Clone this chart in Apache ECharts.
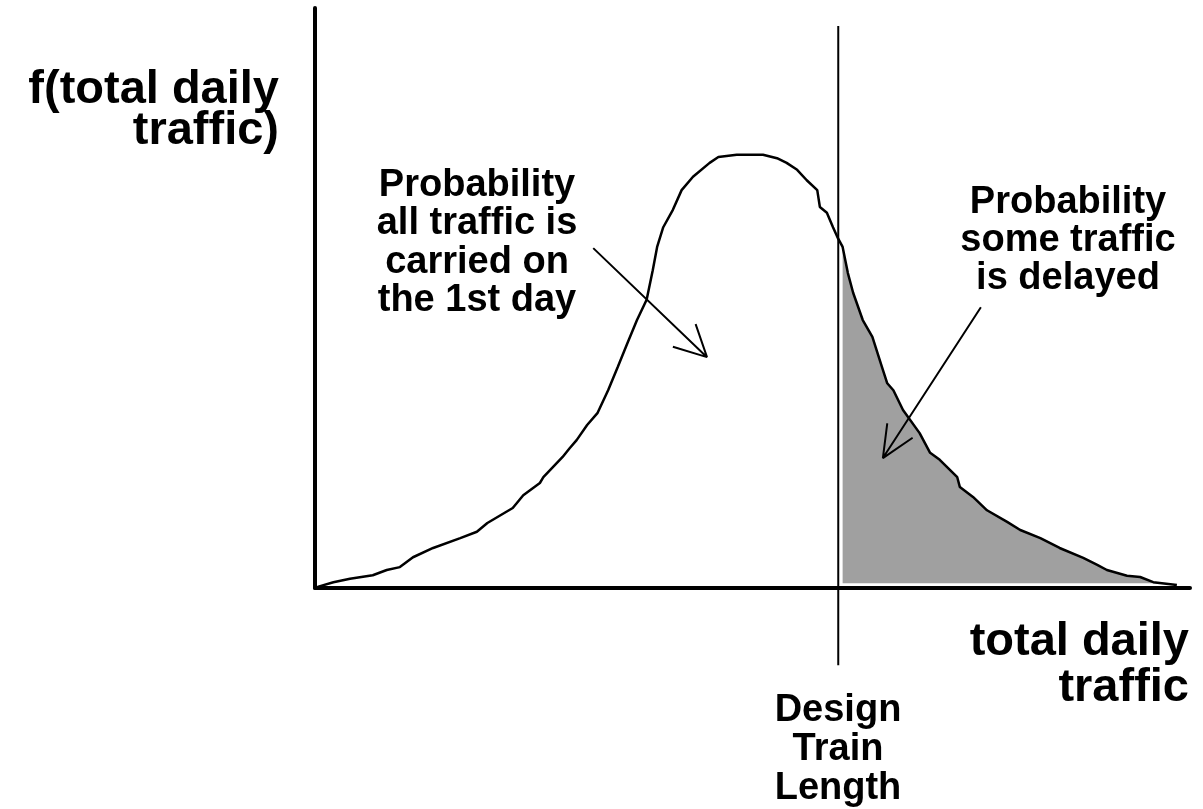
<!DOCTYPE html>
<html>
<head>
<meta charset="utf-8">
<title>Design train length</title>
<script src="https://cdn.jsdelivr.net/npm/echarts@6/dist/echarts.min.js"></script>
<style>
  html, body { margin: 0; padding: 0; background: #fff; }
  #chart { width: 1203px; height: 809px; }
</style>
</head>
<body>
<div id="chart"></div>
<script>
// total daily traffic (x) and its density f(x), 0..100 units
var trafficX = [0.3, 2.1, 4.0, 6.6, 8.2, 9.7, 11.2, 13.5, 16.6, 18.5, 19.7, 22.6, 23.8, 25.7, 26.1,
  28.3, 29.1, 29.9, 31.1, 32.3, 33.5, 34.6, 35.7, 36.8, 37.9, 38.6, 39.1, 39.8, 40.9, 41.9,
  43.2, 45.1, 46.1, 48.2, 51.2, 52.8, 53.9, 55.1, 56.2, 57.4, 57.7, 58.5, 59.2, 59.7, 60.3,
  60.9, 61.5, 62.6, 63.7, 64.8, 65.4, 66.1, 67.2, 69.1, 70.3, 71.4, 73.4, 73.7, 75.2, 76.8,
  79.1, 80.6, 82.9, 85.1, 87.8, 89.4, 90.5, 92.8, 94.3, 95.8, 98.5];
var densityY = [0.2, 1.0, 1.6, 2.2, 3.1, 3.6, 5.3, 6.9, 8.6, 9.7, 11.2, 13.8, 16.0, 18.1, 19.1,
  22.6, 24.1, 25.5, 28.1, 30.2, 34.1, 38.1, 42.2, 46.2, 49.7, 54.8, 58.8, 62.2, 65.2, 68.6,
  70.9, 73.3, 74.3, 74.7, 74.7, 74.1, 73.3, 72.1, 70.3, 68.6, 65.7, 64.7, 62.2, 60.5, 58.8,
  54.3, 50.9, 46.2, 43.3, 38.1, 35.3, 34.1, 30.7, 26.7, 23.3, 22.1, 19.1, 17.4, 15.7, 13.4,
  11.4, 10.0, 8.6, 6.9, 5.2, 4.0, 3.1, 2.1, 1.9, 1.0, 0.5];

var designLength = 59.8;
var designSpan = [-13.3, 96.9];

// arrows: start, tip, head arm, tip, head arm
var arrowAllCarried = [[31.8, 58.6], [44.8, 39.8], [43.5, 45.5], [44.8, 39.8], [40.9, 41.6]];
var arrowDelayed = [[76.1, 48.4], [64.9, 22.4], [65.4, 28.4], [64.9, 22.4], [68.3, 25.9]];

var curve = [];
var delayed = [];
for (var i = 0; i < trafficX.length; i++) {
  curve.push([trafficX[i], densityY[i]]);
  if (trafficX[i] >= designLength) delayed.push([trafficX[i], densityY[i]]);
}

var FONT = '"Liberation Sans", Arial, Helvetica, sans-serif';
function label(text, x, y, align, size, lh) {
  return {
    type: 'text',
    x: x,
    y: y,
    style: {
      text: text,
      fontFamily: FONT,
      fontWeight: 'bold',
      fontSize: size,
      lineHeight: lh,
      fill: '#000',
      align: align,
      verticalAlign: 'middle'
    }
  };
}

var myChart = echarts.init(document.getElementById('chart'), null, { renderer: 'canvas' });
var option = {
  animation: false,
  backgroundColor: '#fff',
  grid: { left: 315, right: 13, top: 8, bottom: 221 },
  xAxis: {
    type: 'value',
    min: 0,
    max: 100,
    z: 5,
    axisLine: { show: true, lineStyle: { color: '#000', width: 4 } },
    axisTick: { show: false },
    axisLabel: { show: false },
    splitLine: { show: false }
  },
  yAxis: {
    type: 'value',
    min: 0,
    max: 100,
    z: 5,
    axisLine: { show: true, lineStyle: { color: '#000', width: 4 } },
    axisTick: { show: false },
    axisLabel: { show: false },
    splitLine: { show: false }
  },
  series: [
    {
      type: 'line',
      data: delayed,
      symbol: 'none',
      lineStyle: { width: 0 },
      areaStyle: { color: '#a0a0a0', opacity: 1, origin: 0.8 },
      z: 1
    },
    {
      type: 'line',
      data: curve,
      symbol: 'none',
      lineStyle: { color: '#000', width: 2.5 },
      z: 3
    },
    {
      type: 'line',
      data: [[designLength, designSpan[0]], [designLength, designSpan[1]]],
      symbol: 'none',
      clip: false,
      lineStyle: { color: '#000', width: 2 },
      z: 4
    },
    {
      type: 'line',
      data: arrowAllCarried,
      symbol: 'none',
      lineStyle: { color: '#000', width: 2 },
      z: 4
    },
    {
      type: 'line',
      data: arrowDelayed,
      symbol: 'none',
      lineStyle: { color: '#000', width: 2 },
      z: 4
    }
  ],
  graphic: [
    label('f(total daily\ntraffic)', 279, 111, 'right', 47, 41),
    label('total daily\ntraffic', 1189, 665, 'right', 47, 46),
    label('Design\nTrain\nLength', 838, 750, 'center', 38, 39),
    label('Probability\nall traffic is\ncarried on\nthe 1st day', 477, 243, 'center', 38, 38.5),
    label('Probability\nsome traffic\nis delayed', 1068, 241, 'center', 38, 38)
  ]
};
myChart.setOption(option);
</script>
</body>
</html>
